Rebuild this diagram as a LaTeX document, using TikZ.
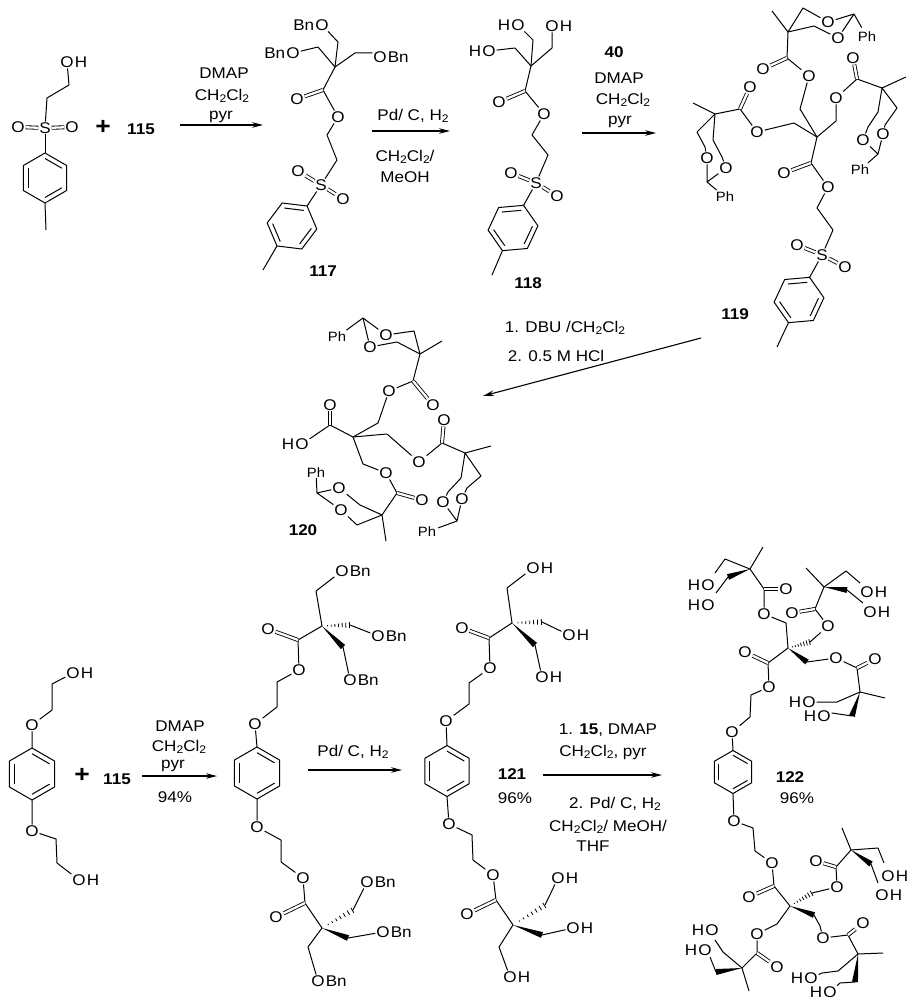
\documentclass[tikz,border=0pt]{standalone}
\usepackage{fontspec}
\setmainfont[FakeStretch=1.1]{Liberation Sans}
\usetikzlibrary{calc}
\usetikzlibrary{arrows.meta}

\tikzset{
	bond/.style={line width=1pt, line join=round},
	dbond/.style={line width=0.85pt, double, double distance=2.3pt},
	atom/.style={inner sep=0.8pt},
	tailr/.style={anchor=base west, inner xsep=0pt, inner ysep=0.8pt},
	taill/.style={anchor=base east, inner xsep=0pt, inner ysep=0.8pt},
	lbl/.style={inner sep=0pt},
	phl/.style={inner sep=0pt, font=\fontsize{13.5}{15}\selectfont},
	rxn/.style={line width=1.1pt, -{Stealth[length=11pt,width=5.5pt]}}
}

\newcommand{\dcm}{CH\raisebox{-2.5pt}{\fontsize{11}{11}\selectfont 2}Cl\raisebox{-2.5pt}{\fontsize{11}{11}\selectfont 2}}
\newcommand{\placeC}[1]{\foreach \n/\x/\y in {#1}{\coordinate (\n) at (\x,\y);}}
\newcommand{\placeO}[1]{\foreach \n/\x/\y in {#1}{\node[atom] (\n) at (\x,\y) {O};}}
\newcommand{\placeR}[2]{\foreach \n/\x/\y in {#2}{\node[atom] (\n) at (\x,\y) {O}; \node[tailr] (\n-t) at (\n.base east) {#1};}}
\newcommand{\placeL}[2]{\foreach \n/\x/\y in {#2}{\node[atom] (\n) at (\x,\y) {O}; \node[taill] (\n-t) at (\n.base west) {#1};}}
\newcommand{\arene}[4]{
	\coordinate (#1c) at (#2);
	\foreach \i in {1,...,6}{\coordinate (#1\i) at ($(#1c)+(#3+60*\i:#4)$);}
	\draw[bond] (#11) -- (#12) -- (#13) -- (#14) -- (#15) -- (#16) -- cycle;
	\foreach \u/\v in {1/2,3/4,5/6}{\draw[bond] ($(#1c)!.78!(#1\u)$) -- ($(#1c)!.78!(#1\v)$);}
}
\newcommand{\wedgeb}[2]{\fill (#1) -- ($(#2)!3pt!90:(#1)$) -- ($(#2)!3pt!-90:(#1)$) -- cycle;}
\newcommand{\hashb}[2]{\foreach \t in {.2,.33,.46,.59,.72,.85,.98}{\draw[line width=0.8pt] ($(#1)!\t!(#2)!\t*3pt!90:(#2)$) -- ($(#1)!\t!(#2)!\t*3pt!-90:(#2)$);}}

\begin{document}
\begin{tikzpicture}[x=1pt, y=-1pt, font=\fontsize{15.5}{17}\selectfont]
	\useasboundingbox (0,0) rectangle (913,1000);

	\placeR{H}{Ao/67/62}
	\placeC{Ac1/69/85,Ac2/47/98,Am/46/230}
	\placeO{Aol/18/127,Aor/72/127}
	\node[atom] (As) at (45,128) {S};
	\arene{At}{45,178}{-150}{25}
	\draw[bond] (Ao) -- (Ac1) -- (Ac2) -- (As);
	\draw[dbond] (As) -- (Aol);
	\draw[dbond] (As) -- (Aor);
	\draw[bond] (As) -- (At1);
	\draw[bond] (At4) -- (Am);
	\node[lbl] (plus1) at (103,127) {\fontsize{24}{24}\selectfont\textbf{+}};
	\node[lbl] (n115a) at (141,129) {\textbf{115}};
	\node[lbl] (r1a) at (224,73) {DMAP};
	\node[lbl] (r1b) at (222,96) {\dcm};
	\node[lbl] (r1c) at (221,117) {pyr};
	\coordinate (w1a) at (180,125);
	\coordinate (w1b) at (263,125);
	\draw[rxn] (w1a) -- (w1b);

	\placeL{Bn}{Bo1/322/25,Bo2/293/53}
	\placeR{Bn}{Bo3/380/57}
	\placeC{Bq/335/67,Ba1/338/42,Ba2/318/47,Ba3/355/53,Ba4/372/53,Bc/323/90,Bc1/327/135,Bc2/337/160,Bm/263/270}
	\placeO{Bo4/297/99,Bo5/338/117,Bo6/298/171,Bo7/343/199}
	\node[atom] (Bs) at (321,185) {S};
	\arene{Bt}{292,226}{-173}{25}
	\draw[bond] (Bo1) -- (Ba1) -- (Bq);
	\draw[bond] (Bo2) -- (Ba2) -- (Bq);
	\draw[bond] (Bo3) -- (Ba4) -- (Ba3) -- (Bq) -- (Bc) -- (Bo5) -- (Bc1) -- (Bc2) -- (Bs);
	\draw[dbond] (Bc) -- (Bo4);
	\draw[dbond] (Bs) -- (Bo6);
	\draw[dbond] (Bs) -- (Bo7);
	\draw[bond] (Bs) -- (Bt2);
	\draw[bond] (Bt5) -- (Bm);
	\node[lbl] (n117) at (323,271) {\textbf{117}};
	\node[lbl] (r2a) at (413,116) {Pd/ C, H\raisebox{-2.5pt}{\fontsize{11}{11}\selectfont 2}};
	\node[lbl] (r2b) at (405,157) {\dcm/};
	\node[lbl] (r2c) at (405,177) {MeOH};
	\coordinate (w2a) at (372,131);
	\coordinate (w2b) at (450,131);
	\draw[rxn] (w2a) -- (w2b);

	\placeL{H}{Co1/518/25,Co2/489/51}
	\placeR{H}{Co3/552/26}
	\placeC{Cq/531/66,Ca1/533/40,Ca2/515/48,Ca3/552/48,Cc/525/91,Cc1/532/135,Cc2/548/155,Cm/492/275}
	\placeO{Co4/499/102,Co5/544/114,Co6/511/173,Co7/557/196}
	\node[atom] (Cs) at (536,183) {S};
	\arene{Ct}{513,228}{-185}{25}
	\draw[bond] (Co1) -- (Ca1) -- (Cq);
	\draw[bond] (Co2) -- (Ca2) -- (Cq);
	\draw[bond] (Co3) -- (Ca3) -- (Cq) -- (Cc) -- (Co5) -- (Cc1) -- (Cc2) -- (Cs);
	\draw[dbond] (Cc) -- (Co4);
	\draw[dbond] (Cs) -- (Co6);
	\draw[dbond] (Cs) -- (Co7);
	\draw[bond] (Cs) -- (Ct2);
	\draw[bond] (Ct5) -- (Cm);
	\node[lbl] (n118) at (528,283) {\textbf{118}};
	\node[lbl] (n40) at (614,52) {\textbf{40}};
	\node[lbl] (r3a) at (619,78) {DMAP};
	\node[lbl] (r3b) at (623,100) {\dcm};
	\node[lbl] (r3c) at (620,122) {pyr};
	\coordinate (w3a) at (582,133);
	\coordinate (w3b) at (656,133);
	\draw[rxn] (w3a) -- (w3b);

	\placeC{Dq/817/137}
	\placeC{Da1/800/109,Dc1/787/58,Dq1/788/32,Dm1/772/11,Dd1/803/8,Dd2/814/26,Dk1/854/14}
	\placeO{Do1/809/76,Do2/763/69,Do3/828/22,Do4/838/38}
	\node[phl] (Dph1) at (867,37) {Ph};
	\draw[bond] (Dq) -- (Da1) -- (Do1) -- (Dc1) -- (Dq1) -- (Dm1);
	\draw[dbond] (Dc1) -- (Do2);
	\draw[bond] (Dq1) -- (Dd1) -- (Do3) -- (Dk1) -- (Do4) -- (Dd2) -- (Dq1);
	\draw[bond, shorten >=5pt] (Dk1) -- (Dph1);
	\placeC{Da2/836/121,Dc2/857/79,Dq2/882/88,Dm2/906/77,De1/878/112,De2/868/127,De3/897/108,De4/885/125,Dk2/878/154}
	\placeO{Do5/836/98,Do6/853/58,Do7/863/140,Do8/883/134}
	\node[phl] (Dph2) at (860,170) {Ph};
	\draw[bond] (Dq) -- (Da2) -- (Do5) -- (Dc2) -- (Dq2) -- (Dm2);
	\draw[dbond] (Dc2) -- (Do6);
	\draw[bond] (Dq2) -- (De1) -- (De2) -- (Do7) -- (Dk2) -- (Do8) -- (De4) -- (De3) -- (Dq2);
	\draw[bond, shorten >=3pt] (Dk2) -- (Dph2);
	\placeC{Da3/794/123,Dc3/740/109,Dq3/715/114,Dm3/693/103,Df1/697/132,Df2/705/147,Df3/713/140,Df4/722/157,Dk3/707/182}
	\placeO{Do9/757/132,Do10/750/87,Do11/707/158,Do12/726/168}
	\node[phl] (Dph3) at (725,197) {Ph};
	\draw[bond] (Dq) -- (Da3) -- (Do9) -- (Dc3) -- (Dq3) -- (Dm3);
	\draw[dbond] (Dc3) -- (Do10);
	\draw[bond] (Dq3) -- (Df1) -- (Df2) -- (Do11) -- (Dk3) -- (Do12) -- (Df4) -- (Df3) -- (Dq3);
	\draw[bond, shorten >=3pt] (Dk3) -- (Dph3);
	\placeC{Dc4/811/163,Dg1/817/208,Dg2/833/230,Dm4/777/347}
	\placeO{Do13/784/173,Do14/828/187,Do15/797/245,Do16/845/267}
	\node[atom] (Ds) at (822,255) {S};
	\arene{Dt}{799,300}{-185}{25}
	\draw[bond] (Dq) -- (Dc4) -- (Do14) -- (Dg1) -- (Dg2) -- (Ds);
	\draw[dbond] (Dc4) -- (Do13);
	\draw[dbond] (Ds) -- (Do15);
	\draw[dbond] (Ds) -- (Do16);
	\draw[bond] (Ds) -- (Dt2);
	\draw[bond] (Dt5) -- (Dm4);
	\node[lbl] (n119) at (735,314) {\textbf{119}};
	\node[lbl] (r4a) at (565,328) {1. DBU /\dcm};
	\node[lbl] (r4b) at (556,356) {2. 0.5 M HCl};
	\coordinate (w4a) at (701,338);
	\coordinate (w4b) at (483,396);
	\draw[rxn] (w4a) -- (w4b);

	\placeC{Eq/353/437}
	\placeC{Ec1/330/425,Ea1/378/423,Ec2/413/381,Eq1/420/354,Em1/442/341,Ed1/414/331,Ed2/397/342,Ek1/363/318}
	\placeO{Eo1/330/405,Eo3/389/391,Eo4/433/405,Eo5/386/335,Eo6/370/347}
	\placeL{H}{Eo2/302/444}
	\node[phl] (Eph1) at (337,337) {Ph};
	\draw[bond] (Eo2) -- (Ec1) -- (Eq) -- (Ea1) -- (Eo3) -- (Ec2) -- (Eq1) -- (Em1);
	\draw[dbond] (Ec1) -- (Eo1);
	\draw[dbond] (Ec2) -- (Eo4);
	\draw[bond] (Eq1) -- (Ed1) -- (Eo5) -- (Ek1) -- (Eo6) -- (Ed2) -- (Eq1);
	\draw[bond, shorten >=3pt] (Ek1) -- (Eph1);
	\placeC{Ea2/387/434,Ec3/442/443,Eq2/465/453,Em2/491/446,Ee1/461/478,Ee2/448/492,Ee3/481/476,Ee4/467/488,Ek2/457/521}
	\placeO{Eo7/419/462,Eo8/444/420,Eo9/443/502,Eo10/462/499}
	\node[phl] (Eph2) at (427,532) {Ph};
	\draw[bond] (Eq) -- (Ea2) -- (Eo7) -- (Ec3) -- (Eq2) -- (Em2);
	\draw[dbond] (Ec3) -- (Eo8);
	\draw[bond] (Eq2) -- (Ee1) -- (Ee2) -- (Eo9) -- (Ek2) -- (Eo10) -- (Ee4) -- (Ee3) -- (Eq2);
	\draw[bond, shorten >=2pt] (Ek2) -- (Eph2);
	\placeC{Ea3/363/464,Ec4/397/493,Eq3/382/515,Em3/386/541,Ef1/357/525,Ef2/360/505,Ek3/317/493}
	\placeO{Eo11/386/473,Eo12/422/500,Eo13/341/510,Eo14/339/488}
	\node[phl] (Eph3) at (316,473) {Ph};
	\draw[bond] (Eq) -- (Ea3) -- (Eo11) -- (Ec4) -- (Eq3) -- (Em3);
	\draw[dbond] (Ec4) -- (Eo12);
	\draw[bond] (Eq3) -- (Ef1) -- (Eo13) -- (Ek3) -- (Eo14) -- (Ef2) -- (Eq3);
	\draw[bond] (Ek3) -- (Eph3);
	\node[lbl] (n120) at (303,530) {\textbf{120}};

	\placeR{H}{Fo1/73/673,Fo3/79/880}
	\placeC{Fc1/52/684,Fc2/52/710,Fc3/56/839,Fc4/57/863}
	\placeO{Fo2/32/725,Fo4/32/831}
	\arene{Ft}{32,774}{-150}{26}
	\draw[bond] (Fo1) -- (Fc1) -- (Fc2) -- (Fo2) -- (Ft1);
	\draw[bond] (Ft4) -- (Fo4) -- (Fc3) -- (Fc4) -- (Fo3);
	\node[lbl] (plus2) at (82,775) {\fontsize{24}{24}\selectfont\textbf{+}};
	\node[lbl] (n115b) at (117,779) {\textbf{115}};
	\node[lbl] (r5a) at (180,726) {DMAP};
	\node[lbl] (r5b) at (179,747) {\dcm};
	\node[lbl] (r5c) at (173,766) {pyr};
	\node[lbl] (r5d) at (175,797) {94\%};
	\coordinate (w5a) at (142,776);
	\coordinate (w5b) at (217,776);
	\draw[rxn] (w5a) -- (w5b);

	\arene{Gt}{257,773}{-150}{26}
	\placeO{Go1/255/724,Go2/299/670,Go3/268/629,Go4/257/827,Go5/303/878,Go6/276/917}
	\placeR{Bn}{Go7/342/571,Go8/378/636,Go9/350/680,Go10/367/882,Go11/383/932,Go12/318/981}
	\placeC{Gc1/277/707,Gc2/277/682,Gc3/298/640,Gq1/322/626,Ga1/316/591,Ga2/350/625,Ga3/343/647}
	\placeC{Gc4/281/840,Gc5/281/862,Gc6/305/903,Gq2/322/928,Ga4/353/910,Ga5/348/938,Ga6/308/947}
	\draw[bond] (Gt1) -- (Go1) -- (Gc1) -- (Gc2) -- (Go2) -- (Gc3) -- (Gq1) -- (Ga1) -- (Go7);
	\draw[dbond] (Gc3) -- (Go3);
	\hashb{Gq1}{Ga2}
	\wedgeb{Gq1}{Ga3}
	\draw[bond] (Ga2) -- (Go8);
	\draw[bond] (Ga3) -- (Go9);
	\draw[bond] (Gt4) -- (Go4) -- (Gc4) -- (Gc5) -- (Go5) -- (Gc6) -- (Gq2) -- (Ga6) -- (Go12);
	\draw[dbond] (Gc6) -- (Go6);
	\hashb{Gq2}{Ga4}
	\wedgeb{Gq2}{Ga5}
	\draw[bond] (Ga4) -- (Go10);
	\draw[bond] (Ga5) -- (Go11);
	\node[lbl] (r6a) at (353,752) {Pd/ C, H\raisebox{-2.5pt}{\fontsize{11}{11}\selectfont 2}};
	\coordinate (w6a) at (308,770);
	\coordinate (w6b) at (402,770);
	\draw[rxn] (w6a) -- (w6b);

	\arene{Ht}{447,771}{-150}{25.5}
	\placeO{Ho1/446/721,Ho2/490/668,Ho3/462/628,Ho4/449/824,Ho5/493/875,Ho6/467/914}
	\placeR{H}{Ho7/533/568,Ho8/569/635,Ho9/542/677,Ho10/558/878,Ho11/573/928,Ho12/510/977}
	\placeC{Hc1/469/704,Hc2/469/683,Hc3/489/638,Hq1/512/623,Ha1/507/588,Ha2/542/622,Ha3/535/645}
	\placeC{Hc4/472/835,Hc5/473/860,Hc6/496/900,Hq2/513/925,Ha4/545/905,Ha5/542/935,Ha6/499/947}
	\draw[bond] (Ht1) -- (Ho1) -- (Hc1) -- (Hc2) -- (Ho2) -- (Hc3) -- (Hq1) -- (Ha1) -- (Ho7);
	\draw[dbond] (Hc3) -- (Ho3);
	\hashb{Hq1}{Ha2}
	\wedgeb{Hq1}{Ha3}
	\draw[bond] (Ha2) -- (Ho8);
	\draw[bond] (Ha3) -- (Ho9);
	\draw[bond] (Ht4) -- (Ho4) -- (Hc4) -- (Hc5) -- (Ho5) -- (Hc6) -- (Hq2) -- (Ha6) -- (Ho12);
	\draw[dbond] (Hc6) -- (Ho6);
	\hashb{Hq2}{Ha4}
	\wedgeb{Hq2}{Ha5}
	\draw[bond] (Ha4) -- (Ho10);
	\draw[bond] (Ha5) -- (Ho11);
	\node[lbl] (n121) at (512,774) {\textbf{121}};
	\node[lbl] (y121) at (515,798) {96\%};
	\node[lbl] (r7a) at (608,730) {1. \textbf{15}, DMAP};
	\node[lbl] (r7b) at (603,752) {\dcm, pyr};
	\node[lbl] (r7c) at (615,804) {2. Pd/ C, H\raisebox{-2.5pt}{\fontsize{11}{11}\selectfont 2}};
	\node[lbl] (r7d) at (608,827) {\dcm/ MeOH/};
	\node[lbl] (r7e) at (593,846) {THF};
	\coordinate (w7a) at (543,775);
	\coordinate (w7b) at (662,775);
	\draw[rxn] (w7a) -- (w7b);

	\arene{Jt}{733,772}{-150}{21.5}
	\placeO{Jo1/732/732,Jo2/769/687,Jo3/745/652,Jo4/734/821,Jo5/772/863,Jo6/749/897}
	\placeC{Jc1/750/717,Jc2/751/695,Jc3/768/663,Jq1/788/648,Jc4/753/828,Jc5/755/851,Jc6/774/886,Jq2/790/906}
	\draw[bond] (Jt1) -- (Jo1) -- (Jc1) -- (Jc2) -- (Jo2) -- (Jc3) -- (Jq1);
	\draw[dbond] (Jc3) -- (Jo3);
	\draw[bond] (Jt4) -- (Jo4) -- (Jc4) -- (Jc5) -- (Jo5) -- (Jc6) -- (Jq2);
	\draw[dbond] (Jc6) -- (Jo6);
	\node[lbl] (n122) at (790,777) {\textbf{122}};
	\node[lbl] (y122) at (797,798) {96\%};

	\placeC{Ja1/786/623,Jd1/764/589,Jp1/750/569,Jm1/763/547,Jb1/725/559,Jb2/715/573,Jb3/728/577,Jb4/716/593}
	\placeO{Jo7/764/614,Jo8/786/589}
	\placeL{H}{Jo9/708/585,Jo10/708/605}
	\draw[bond] (Jq1) -- (Ja1) -- (Jo7) -- (Jd1) -- (Jp1) -- (Jm1);
	\draw[dbond] (Jd1) -- (Jo8);
	\draw[bond] (Jp1) -- (Jb1) -- (Jb2);
	\wedgeb{Jp1}{Jb3}
	\draw[bond] (Jb3) -- (Jb4);

	\placeC{Ja2/810/642,Jd2/815/609,Jp2/824/587,Jm2/806/568,Jb5/846/571,Jb6/860/583,Jb7/847/590,Jb8/863/603}
	\placeO{Jo11/828/626,Jo12/792/613}
	\placeR{H}{Jo13/867/592,Jo14/870/612}
	\hashb{Jq1}{Ja2}
	\draw[bond] (Ja2) -- (Jo11) -- (Jd2) -- (Jp2) -- (Jm2);
	\draw[dbond] (Jd2) -- (Jo12);
	\draw[bond] (Jp2) -- (Jb5) -- (Jb6);
	\wedgeb{Jp2}{Jb7}
	\draw[bond] (Jb7) -- (Jb8);

	\placeC{Ja3/807/662,Jd3/857/668,Jp3/860/692,Jm3/885/698,Jb9/837/702,Jb10/852/716,Jb11/832/713}
	\placeO{Jo15/836/658,Jo16/875/659}
	\placeL{H}{Jo17/809/702,Jo18/824/716}
	\wedgeb{Jq1}{Ja3}
	\draw[bond] (Ja3) -- (Jo15) -- (Jd3) -- (Jp3) -- (Jm3);
	\draw[dbond] (Jd3) -- (Jo16);
	\draw[bond] (Jp3) -- (Jb9) -- (Jo17);
	\wedgeb{Jp3}{Jb10}
	\draw[bond] (Jb10) -- (Jb11) -- (Jo18);

	\placeC{Ja4/812/893,Jd4/836/867,Jp4/851/850,Jm4/842/828,Jb12/878/848,Jb13/884/863,Jb14/871/864,Jb15/878/883}
	\placeO{Jo19/837/887,Jo20/816/861}
	\placeR{H}{Jo21/888/876,Jo22/882/895}
	\hashb{Jq2}{Ja4}
	\draw[bond] (Ja4) -- (Jo19) -- (Jd4) -- (Jp4) -- (Jm4);
	\draw[dbond] (Jd4) -- (Jo20);
	\draw[bond] (Jp4) -- (Jb12) -- (Jb13);
	\wedgeb{Jp4}{Jb14}
	\draw[bond] (Jb14) -- (Jb15);

	\placeC{Ja5/814/915,Ja6/820/926,Jd5/848/935,Jp5/858/954,Jm5/883/953,Jb16/838/971,Jb17/822/973,Jb18/855/982,Jb19/840/983}
	\placeO{Jo23/823/938,Jo24/863/923}
	\placeL{H}{Jo25/811/978,Jo26/830/992}
	\wedgeb{Jq2}{Ja5}
	\draw[bond] (Ja5) -- (Ja6) -- (Jo23) -- (Jd5) -- (Jp5) -- (Jm5);
	\draw[dbond] (Jd5) -- (Jo24);
	\draw[bond] (Jp5) -- (Jb16) -- (Jb17) -- (Jo25);
	\wedgeb{Jp5}{Jb18}
	\draw[bond] (Jb18) -- (Jb19) -- (Jo26);

	\placeC{Ja7/777/924,Jd6/757/953,Jp6/742/968,Jm6/749/991,Jb20/723/952,Jb21/715/940,Jb22/716/972,Jb23/710/957}
	\placeO{Jo27/757/934,Jo28/777/967}
	\placeL{H}{Jo29/712/930,Jo30/705/950}
	\draw[bond] (Jq2) -- (Ja7) -- (Jo27) -- (Jd6) -- (Jp6) -- (Jm6);
	\draw[dbond] (Jd6) -- (Jo28);
	\draw[bond] (Jp6) -- (Jb20) -- (Jb21);
	\wedgeb{Jp6}{Jb22}
	\draw[bond] (Jb22) -- (Jb23);
\end{tikzpicture}
\end{document}
